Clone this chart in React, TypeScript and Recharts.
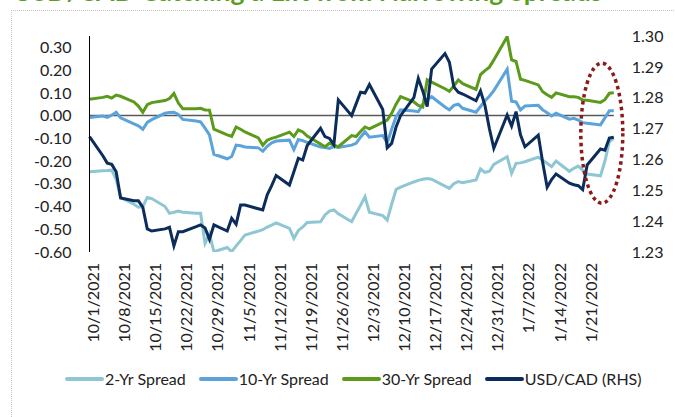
import { LineChart, Line, XAxis, YAxis, ReferenceLine, ReferenceDot } from 'recharts'

const DATES = [
  '10/1/2021', '10/4/2021', '10/5/2021', '10/6/2021', '10/7/2021', '10/8/2021',
  '10/11/2021', '10/12/2021', '10/13/2021', '10/14/2021', '10/15/2021',
  '10/18/2021', '10/19/2021', '10/20/2021', '10/21/2021', '10/22/2021',
  '10/25/2021', '10/26/2021', '10/27/2021', '10/28/2021', '10/29/2021',
  '11/1/2021', '11/2/2021', '11/3/2021', '11/4/2021', '11/5/2021',
  '11/8/2021', '11/9/2021', '11/10/2021', '11/11/2021', '11/12/2021',
  '11/15/2021', '11/16/2021', '11/17/2021', '11/18/2021', '11/19/2021',
  '11/22/2021', '11/23/2021', '11/24/2021', '11/25/2021', '11/26/2021',
  '11/29/2021', '11/30/2021',
  '12/1/2021', '12/2/2021', '12/3/2021',
  '12/6/2021', '12/7/2021', '12/8/2021', '12/9/2021', '12/10/2021',
  '12/13/2021', '12/14/2021', '12/15/2021', '12/16/2021', '12/17/2021',
  '12/20/2021', '12/21/2021', '12/22/2021', '12/23/2021', '12/24/2021',
  '12/27/2021', '12/28/2021', '12/29/2021', '12/30/2021', '12/31/2021',
  '1/3/2022', '1/4/2022', '1/5/2022', '1/6/2022', '1/7/2022',
  '1/10/2022', '1/11/2022', '1/12/2022', '1/13/2022', '1/14/2022',
  '1/17/2022', '1/18/2022', '1/19/2022', '1/20/2022', '1/21/2022',
  '1/24/2022', '1/25/2022', '1/26/2022', '1/27/2022',
]

const SPREAD_2Y = [
  -0.247, -0.243, -0.242, -0.24, -0.28, -0.36, -0.39, -0.403, -0.4, -0.36, -0.365,
  -0.4, -0.43, -0.425, -0.42, -0.425, -0.43, -0.43, -0.562, -0.52, -0.599,
  -0.58, -0.599, -0.573, -0.55, -0.525, -0.508, -0.502, -0.49, -0.482, -0.472,
  -0.496, -0.54, -0.505, -0.49, -0.47, -0.467, -0.437, -0.42, -0.415, -0.432, -0.467, -0.43,
  -0.395, -0.357, -0.425, -0.44, -0.46, -0.39, -0.325, -0.315, -0.292, -0.285, -0.28,
  -0.277, -0.28, -0.31, -0.32, -0.3, -0.29, -0.295, -0.283, -0.235, -0.25, -0.245, -0.215,
  -0.181, -0.254, -0.21, -0.208, -0.203, -0.183, -0.197, -0.21, -0.225, -0.2,
  -0.245, -0.232, -0.222, -0.24, -0.257, -0.265, -0.2, -0.115, -0.1,
]

const SPREAD_10Y = [
  -0.008, -0.002, -0.008, 0.002, 0.015, -0.01, -0.036, -0.045, -0.06, -0.03, -0.018,
  0.01, 0.014, 0.015, 0.005, -0.017, -0.024, -0.028, -0.055, -0.085, -0.17,
  -0.19, -0.18, -0.13, -0.133, -0.138, -0.142, -0.157, -0.135, -0.12, -0.112,
  -0.108, -0.15, -0.105, -0.11, -0.118, -0.138, -0.14, -0.144, -0.136, -0.14, -0.13, -0.122,
  -0.095, -0.071, -0.095, -0.088, -0.12, -0.06, -0.005, 0.025, 0.02, 0.017, 0.05,
  0.07, 0.083, 0.038, 0.025, 0.045, 0.05, 0.032, 0.015, 0.04, 0.065, 0.085, 0.11,
  0.204, 0.063, 0.06, 0.025, 0.042, 0.045, 0.025, 0.012, -0.002, 0.01,
  -0.016, -0.012, -0.02, -0.031, -0.034, -0.041, -0.01, 0.021, 0.021,
]

const SPREAD_30Y = [
  0.072, 0.08, 0.085, 0.077, 0.09, 0.085, 0.06, 0.042, 0.015, 0.048, 0.057,
  0.066, 0.075, 0.097, 0.055, 0.03, 0.03, 0.032, 0.025, 0.024, -0.06,
  -0.085, -0.092, -0.05, -0.06, -0.072, -0.098, -0.13, -0.108, -0.1, -0.095,
  -0.073, -0.092, -0.063, -0.072, -0.09, -0.125, -0.137, -0.122, -0.13, -0.137, -0.088, -0.092,
  -0.07, -0.05, -0.058, -0.03, -0.02, 0.01, 0.05, 0.083, 0.06, 0.045, 0.038,
  0.157, 0.147, 0.118, 0.107, 0.13, 0.157, 0.14, 0.115, 0.18, 0.198, 0.213, 0.245,
  0.347, 0.245, 0.238, 0.16, 0.155, 0.135, 0.105, 0.092, 0.08, 0.1,
  0.083, 0.083, 0.08, 0.068, 0.067, 0.058, 0.07, 0.098, 0.1,
]

const USD_CAD = [
  1.2674, 1.2612, 1.2588, 1.2584, 1.256, 1.2475, 1.2466, 1.2466, 1.2445, 1.2375, 1.2368,
  1.2375, 1.238, 1.232, 1.2366, 1.2366, 1.2382, 1.2388, 1.2378, 1.2341, 1.2388,
  1.2368, 1.2409, 1.239, 1.2452, 1.2452, 1.244, 1.2436, 1.2485, 1.2515, 1.2548,
  1.2517, 1.256, 1.2604, 1.2598, 1.2645, 1.2701, 1.2674, 1.2668, 1.2648, 1.2793, 1.2742, 1.278,
  1.2818, 1.2815, 1.2843, 1.2762, 1.2638, 1.2652, 1.2705, 1.2742, 1.28, 1.2863, 1.2822,
  1.2771, 1.2893, 1.2943, 1.2915, 1.2835, 1.2818, 1.2812, 1.279, 1.2822, 1.2775, 1.27, 1.2636,
  1.2744, 1.2708, 1.2755, 1.268, 1.2641, 1.2679, 1.259, 1.251, 1.2535, 1.2553,
  1.2523, 1.2518, 1.2515, 1.2502, 1.2582, 1.2634, 1.263, 1.2669, 1.2672,
]

const X_TICK_LABELS = [
  '10/1/2021', '10/8/2021', '10/15/2021', '10/22/2021', '10/29/2021', '11/5/2021',
  '11/12/2021', '11/19/2021', '11/26/2021', '12/3/2021', '12/10/2021', '12/17/2021',
  '12/24/2021', '12/31/2021', '1/7/2022', '1/14/2022', '1/21/2022',
]
const LEFT_TICKS = [-0.6, -0.5, -0.4, -0.3, -0.2, -0.1, 0, 0.1, 0.2, 0.3]
const RIGHT_TICKS = [1.23, 1.24, 1.25, 1.26, 1.27, 1.28, 1.29, 1.3]

const SERIES = [
  { key: 's2', name: '2-Yr Spread', color: '#8ec6d3', axis: 'left' },
  { key: 's10', name: '10-Yr Spread', color: '#5ba3da', axis: 'left' },
  { key: 's30', name: '30-Yr Spread', color: '#5b9a1b', axis: 'left' },
  { key: 'fx', name: 'USD/CAD (RHS)', color: '#0c2d5c', axis: 'right' },
]

const FONT = 'Lato, "Open Sans", sans-serif'
const TEXT = '#222'

function dayOffset(s: string) {
  const [m, d, y] = s.split('/').map(Number)
  return Math.round((Date.UTC(y, m - 1, d) - Date.UTC(2021, 9, 1)) / 86400000)
}

const data = DATES.map((date, i) => ({
  day: dayOffset(date),
  s2: SPREAD_2Y[i],
  s10: SPREAD_10Y[i],
  s30: SPREAD_30Y[i],
  fx: USD_CAD[i],
}))

const xTicks = X_TICK_LABELS.map(dayOffset)
const labelByDay: Record<number, string> = {}
X_TICK_LABELS.forEach((l) => (labelByDay[dayOffset(l)] = l))

function DateTick({ x, y, payload }: any) {
  const tx = x + 3
  return (
    <text
      x={tx}
      y={y}
      transform={`rotate(-90, ${tx}, ${y})`}
      textAnchor="end"
      dominantBaseline="central"
      fontSize={16}
      fontFamily={FONT}
      fill={TEXT}
    >
      {labelByDay[payload.value]}
    </text>
  )
}

function DottedEllipse({ cx, cy }: any) {
  return (
    <ellipse
      cx={cx}
      cy={cy}
      rx={21}
      ry={70}
      fill="none"
      stroke="#8b1a1a"
      strokeWidth={3.5}
      strokeDasharray="3.5 3.5"
    />
  )
}

export default function App() {
  return (
    <div
      style={{
        position: 'absolute',
        left: 0,
        top: 0,
        width: 675,
        height: 417,
        overflow: 'hidden',
        background: '#fff',
        fontFamily: FONT,
      }}
    >
      <div
        style={{
          position: 'absolute',
          left: 13,
          top: -22,
          fontSize: 26.4,
          lineHeight: '26px',
          fontWeight: 700,
          color: '#5a9e1e',
          whiteSpace: 'nowrap',
        }}
      >
        USD/CAD Catching a Lift from Narrowing Spreads
      </div>
      <div
        style={{
          position: 'absolute',
          left: 11,
          top: 10,
          width: 700,
          height: 420,
          borderTop: '1px dotted #c4c4c4',
          borderLeft: '1px dotted #c4c4c4',
        }}
      />
      <div style={{ position: 'absolute', left: 0, top: 0 }}>
        <LineChart
          width={675}
          height={417}
          data={data}
          margin={{ top: 36, right: 11.2, left: 29.5, bottom: 65 }}
        >
          <XAxis
            dataKey="day"
            type="number"
            domain={[0, 118]}
            ticks={xTicks}
            interval={0}
            axisLine={false}
            tickLine={false}
            tickSize={0}
            tickMargin={11}
            height={100}
            tick={<DateTick />}
          />
          <YAxis
            yAxisId="left"
            domain={[-0.6, 0.35]}
            allowDataOverflow
            ticks={LEFT_TICKS}
            interval={0}
            tickFormatter={(v: number) => v.toFixed(2)}
            width={60}
            axisLine={{ stroke: '#000', strokeWidth: 1 }}
            tickLine={false}
            tickSize={0}
            tickMargin={18}
            tick={{ fontSize: 16, fill: TEXT, fontFamily: FONT }}
          />
          <YAxis
            yAxisId="right"
            orientation="right"
            domain={[1.23, 1.3]}
            allowDataOverflow
            ticks={RIGHT_TICKS}
            interval={0}
            tickFormatter={(v: number) => v.toFixed(2)}
            width={50}
            axisLine={false}
            tickLine={false}
            tickSize={0}
            tickMargin={18}
            tick={{ fontSize: 16, fill: TEXT, fontFamily: FONT, textAnchor: 'start' }}
          />
          <ReferenceLine yAxisId="left" y={0} stroke="#595959" strokeWidth={1.5} />
          {SERIES.map((s) => (
            <Line
              key={s.key}
              yAxisId={s.axis}
              dataKey={s.key}
              name={s.name}
              type="linear"
              stroke={s.color}
              strokeWidth={3}
              dot={false}
              isAnimationActive={false}
            />
          ))}
          <ReferenceDot
            yAxisId="right"
            x={115.3}
            y={1.2685}
            shape={<DottedEllipse />}
          />
        </LineChart>
      </div>
      <div
        style={{
          position: 'absolute',
          left: 65,
          top: 369,
          display: 'flex',
          alignItems: 'center',
          fontSize: 16,
          color: TEXT,
          whiteSpace: 'nowrap',
        }}
      >
        {SERIES.map((s) => (
          <span key={s.key} style={{ display: 'flex', alignItems: 'center', marginRight: 13 }}>
            <span
              style={{
                display: 'inline-block',
                width: 39,
                height: 4,
                borderRadius: 2,
                background: s.color,
                marginRight: 1,
              }}
            />
            {s.name}
          </span>
        ))}
      </div>
    </div>
  )
}
